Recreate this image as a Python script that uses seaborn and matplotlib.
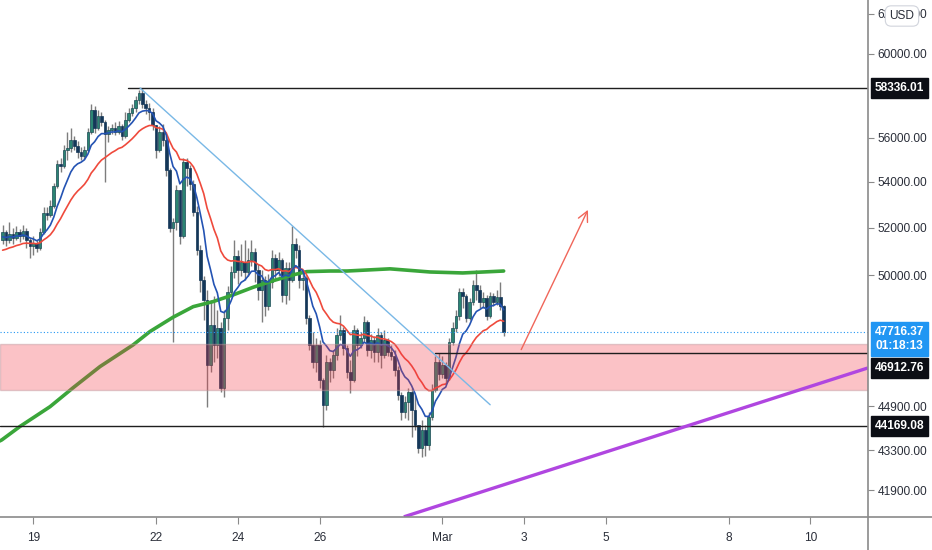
import numpy as np
import pandas as pd
import matplotlib
matplotlib.use("Agg")
import matplotlib.pyplot as plt
import matplotlib.transforms as mtransforms
from matplotlib.ticker import FixedLocator, FixedFormatter, NullLocator
from matplotlib.lines import Line2D
import seaborn as sns

# ---------------- data (BTC/USD, 2-hour bars) ----------------
# time measured in days from Feb 19 00:00
first_bar_day = -0.75
bar_hours = 2
first_open = 51480

closes = [51820, 51480, 51730, 51560, 51820, 51650, 51860, 51480, 51230, 51350,
          51140, 51820, 52640, 52550, 52940, 53820, 54800, 54710, 55440, 55530,
          55890, 55620, 55340, 55160, 55440, 56260, 57290, 56450, 57010, 56730,
          56170, 56350, 56450, 56260, 56540, 56080, 56820, 57150, 57380, 57760,
          58100, 57570, 57380, 57200, 56590, 55440, 56260, 55890, 54530, 51990,
          52250, 53640, 51650, 54890, 54620, 53910, 52680, 51060, 49810, 49000,
          46450, 48000, 47220, 47880, 45580, 48280, 49320, 50140, 50810, 50220,
          50560, 50140, 50640, 50970, 50220, 49400, 49810, 48760, 49730, 50720,
          50220, 50640, 49200, 50310, 49810, 51310, 51060, 49810, 49890, 48280,
          47220, 46560, 47220, 45880, 44940, 46560, 46260, 46830, 47610, 47810,
          47100, 46180, 45880, 47810, 47220, 47490, 48120, 47030, 47410, 46950,
          47610, 46830, 47410, 46950, 46790, 46260, 45320, 44690, 45060, 45430,
          44760, 44210, 43380, 44030, 43490, 44500, 45500, 46560, 46110, 46450,
          45950, 47340, 47880, 48360, 49320, 49160, 48280, 48920, 49610, 49400,
          48920, 49080, 48360, 49160, 48920, 49120, 48760, 47716.37]

highs = [52120, 51900, 52250, 51990, 52080, 51950, 52120, 51990, 51560, 51650,
         51480, 51990, 52900, 52900, 53200, 53950, 54980, 55070, 55660, 56260,
         56450, 56080, 55850, 55570, 55620, 56450, 57570, 57480, 57290, 57200,
         56820, 56540, 56630, 56730, 56770, 56630, 57200, 57380, 57570, 57950,
         58240, 58336.01, 57760, 57620, 57380, 56590, 56540, 56630, 56080, 54620,
         52420, 53860, 53640, 55070, 55070, 54750, 54080, 52940, 51270, 49980,
         49400, 49000, 49160, 48600, 48120, 48600, 49570, 50390, 51480, 51060,
         51310, 51480, 51140, 51480, 51140, 50470, 50220, 49970, 50060, 51060,
         50890, 50970, 50720, 50560, 50560, 52080, 51560, 51270, 50220, 49970,
         48400, 47730, 47490, 47400, 45950, 46830, 46720, 47030, 47880, 48400,
         47920, 47220, 46640, 48000, 47880, 47730, 48360, 48200, 47650, 47570,
         47880, 47730, 47810, 47490, 47220, 47030, 46410, 45430, 45280, 45580,
         45580, 45320, 44210, 44390, 44210, 44690, 45730, 46790, 46910, 46790,
         46560, 47490, 48120, 48600, 49490, 49490, 49240, 49080, 49810, 50220,
         49610, 49320, 49200, 49320, 49280, 49400, 49730, 48800]

lows = [51310, 51230, 51350, 51310, 51480, 51390, 51520, 51140, 50720, 50850,
        50970, 51060, 51730, 52330, 52460, 52850, 53730, 54440, 54620, 54980,
        55340, 55440, 55070, 54980, 55030, 55340, 56170, 56210, 56350, 56540,
        54000, 55800, 56170, 56120, 56170, 55890, 55980, 56730, 57010, 57200,
        57570, 57380, 57100, 56820, 56350, 55070, 55340, 55620, 54260, 51820,
        47340, 51900, 51310, 51560, 53820, 53640, 52500, 50850, 49320, 48200,
        44870, 46180, 46560, 46720, 45430, 45240, 47810, 49160, 49890, 49650,
        49970, 49810, 49970, 50390, 49730, 49000, 48120, 48360, 48600, 49490,
        49890, 49970, 48920, 48840, 49000, 49730, 50720, 49490, 49400, 48040,
        47030, 46330, 46180, 45580, 44140, 44760, 45800, 45950, 46640, 47410,
        46830, 45950, 45390, 45800, 46790, 47100, 47340, 46790, 46720, 46560,
        46560, 46330, 46720, 46790, 46640, 46030, 45130, 44390, 44470, 44390,
        43780, 44030, 43200, 43060, 43100, 43310, 44390, 45430, 45880, 45950,
        45770, 45880, 47220, 47730, 48200, 48680, 48120, 48200, 48800, 49000,
        48680, 48680, 48200, 48280, 48760, 48800, 48600, 47570]

# indicator settings / readings
ema_fast_span = 9
ema_slow_span = 21
ema_fast_start = 51560
ema_slow_start = 50970
ma200_days = [-0.82, -0.77, -0.33, 0.41, 0.97, 1.63, 2.44, 2.85, 3.42, 3.91, 4.39,
              4.88, 5.37, 5.86, 6.35, 6.69, 7.25, 7.67, 8.72, 9.70, 10.50, 11.50]
ma200_vals = [43630, 43669, 44150, 44880, 45580, 46384, 47220, 47740, 48310, 48730, 48930,
              49200, 49510, 49780, 50020, 50155, 50180, 50180, 50270, 50140, 50100, 50180]

# drawings
high_level = 58336.01
high_level_start = 2.32
support_level = 44169.08
resist_level = 46912.76
resist_start = 9.82
zone_low, zone_high = 45500, 47260
last_price = 47716.37
countdown = "01:18:13"
trend_days = [2.61, 11.17]
trend_prices = [58336.01, 44950]
arrow_days = [11.90, 13.59]
arrow_prices = [46940, 52880]
purple_days = [9.06, 20.41]
purple_prices = [40990, 46335]

price_ticks = [62000, 60000, 56000, 54000, 52000, 50000, 44900, 43300, 41900]
date_ticks = [0, 3, 5, 7, 10, 12, 14, 17, 19]
date_labels = ["19", "22", "24", "26", "Mar", "3", "5", "8", "10"]

# ---------------- derived ----------------
n = len(closes)
days = first_bar_day + np.arange(n) * bar_hours / 24.0
closes_a = np.array(closes, float)
opens_a = np.concatenate([[first_open], closes_a[:-1]])
highs_a = np.maximum(np.array(highs, float), np.maximum(opens_a, closes_a))
lows_a = np.minimum(np.array(lows, float), np.minimum(opens_a, closes_a))

ema_fast = pd.Series([ema_fast_start] + closes).ewm(span=ema_fast_span, adjust=False).mean().values[1:]
ema_slow = pd.Series([ema_slow_start] + closes).ewm(span=ema_slow_span, adjust=False).mean().values[1:]

df = pd.DataFrame({"day": days, "open": opens_a, "high": highs_a, "low": lows_a,
                   "close": closes_a, "ema_fast": ema_fast, "ema_slow": ema_slow})
df_ma = pd.DataFrame({"day": ma200_days, "ma": ma200_vals})

# ---------------- figure ----------------
sns.set_theme(style="white")
plt.rcParams["font.family"] = ["Liberation Sans", "DejaVu Sans"]

W, H = 932, 550
fig = plt.figure(figsize=(W / 100, H / 100), dpi=100)
fig.patch.set_facecolor("white")
ax = fig.add_axes([0, 33 / H, 868 / W, 517 / H])
ax.set_facecolor("white")
for s in ax.spines.values():
    s.set_visible(False)

ax.set_yscale("log")
ax.set_xlim(-0.8142, 20.408)
ax.set_ylim(40984, 62718)

# candles
bull = df["close"] >= df["open"]
ax.vlines(df["day"], df["low"], df["high"], color="#7d7d7d", lw=1.0, zorder=3)
body_lo = np.minimum(df["open"], df["close"])
body_hi = np.maximum(df["open"], df["close"])
ax.bar(df["day"][bull], (body_hi - body_lo)[bull], bottom=body_lo[bull], width=0.064,
       color="#2b8573", edgecolor="#1b4a55", linewidth=0.5, zorder=4)
ax.bar(df["day"][~bull], (body_hi - body_lo)[~bull], bottom=body_lo[~bull], width=0.064,
       color="#143759", edgecolor="#143759", linewidth=0.5, zorder=4)

# moving averages
sns.lineplot(data=df_ma, x="day", y="ma", ax=ax, color="#3aa63a", lw=2.6, zorder=5,
             sort=False, estimator=None)
sns.lineplot(data=df, x="day", y="ema_slow", ax=ax, color="#ef4a3c", lw=1.2, zorder=6,
             sort=False, estimator=None)
sns.lineplot(data=df, x="day", y="ema_fast", ax=ax, color="#2453b3", lw=1.2, zorder=7,
             sort=False, estimator=None)

# zone
ax.axhspan(zone_low, zone_high, facecolor=(242 / 255, 54 / 255, 69 / 255, 0.30),
           edgecolor=(190 / 255, 150 / 255, 155 / 255, 0.45), lw=1, zorder=8)

# horizontal levels
xr = ax.get_xlim()[1]
ax.plot([high_level_start, xr], [high_level, high_level], color="#1e1e1e", lw=1, zorder=9)
ax.axhline(support_level, color="#1e1e1e", lw=1, zorder=9)
ax.plot([resist_start, xr], [resist_level, resist_level], color="#1e1e1e", lw=1, zorder=9)
ax.axhline(last_price, color="#2196f3", lw=0.8, ls=(0, (1, 2)), zorder=9)

# trend lines
ax.plot(trend_days, trend_prices, color="#79b8e6", lw=1.0, zorder=9)
ax.plot(purple_days, purple_prices, color="#b046e0", lw=2.4, zorder=9, solid_capstyle="butt")
ax.annotate("", xy=(arrow_days[1], arrow_prices[1]), xytext=(arrow_days[0], arrow_prices[0]),
            arrowprops=dict(arrowstyle="->,head_length=0.6,head_width=0.3", color="#f0665a", lw=1.0),
            zorder=9)

# price scale (right)
ax.yaxis.tick_right()
ax.yaxis.set_major_locator(FixedLocator(price_ticks))
ax.yaxis.set_major_formatter(FixedFormatter([f"{t:.2f}" for t in price_ticks]))
ax.yaxis.set_minor_locator(NullLocator())
ax.tick_params(axis="y", which="major", right=True, length=4, width=0.8, color="#8a8a8a",
               direction="out", pad=3, labelsize=8.6, labelcolor="#2a2e39")
ax.set_ylabel("")

# time scale
ax.xaxis.set_major_locator(FixedLocator(date_ticks))
ax.xaxis.set_major_formatter(FixedFormatter(date_labels))
ax.xaxis.set_minor_locator(NullLocator())
ax.tick_params(axis="x", which="major", bottom=True, length=5, width=0.8, color="#8a8a8a",
               direction="out", pad=6, labelsize=8.6, labelcolor="#2a2e39")
ax.set_xlabel("")

# axis frame lines across the figure
fig.add_artist(Line2D([0, 1], [33 / H, 33 / H], color="#8a8a8a", lw=1.2))
fig.add_artist(Line2D([868 / W, 868 / W], [0, 1], color="#8a8a8a", lw=1.2))

# price labels on the scale
blend = mtransforms.blended_transform_factory(ax.transAxes, ax.transData)


def tag(price, text, fc, dy=0):
    ax.annotate(text, xy=(1.0, price), xycoords=blend, xytext=(7, dy),
                textcoords="offset pixels", ha="left", va="center", fontsize=8.6,
                color="white", fontweight="bold", annotation_clip=False, zorder=20,
                bbox=dict(boxstyle="square,pad=0.32", fc=fc, ec=fc))


tag(high_level, f"{high_level:.2f}", "#0c0e15")
tag(support_level, f"{support_level:.2f}", "#0c0e15")
tag(resist_level, f"{resist_level:.2f}", "#0c0e15", dy=-15)
tag(last_price, f"{last_price:.2f}\n{countdown}", "#2196f3", dy=-7)

# currency button
fig.text(902 / W, 1 - 16 / H, "USD", ha="center", va="center", fontsize=8.6, color="#2a2e39",
         bbox=dict(boxstyle="round,pad=0.35,rounding_size=0.5", fc="white", ec="#d1d4dc", lw=0.8),
         zorder=30)

fig.savefig("out.png", dpi=100, facecolor="white")
